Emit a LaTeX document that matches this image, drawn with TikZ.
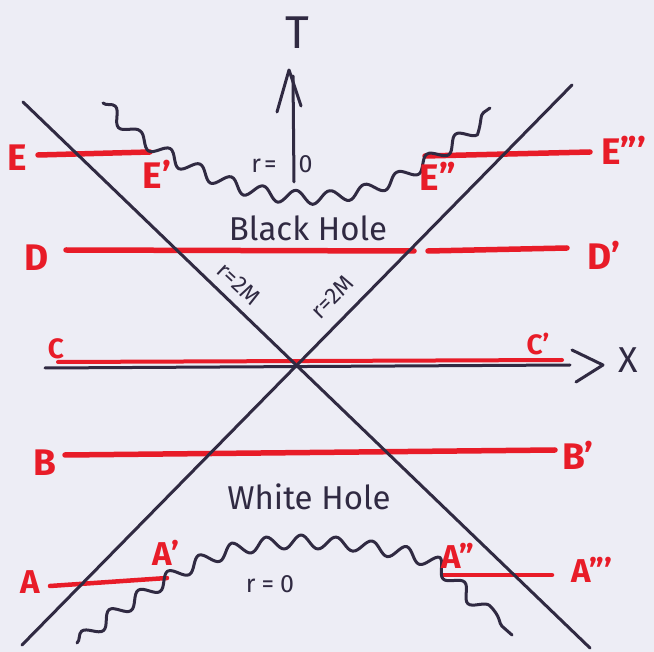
\documentclass[tikz,border=0pt]{standalone}
\usepackage{fontspec}
\setmainfont{Fira Sans}
\usetikzlibrary{decorations.pathmorphing}
\definecolor{paper}{RGB}{237,237,245}
\definecolor{ink}{RGB}{48,42,66}
\definecolor{mark}{RGB}{232,28,40}
\begin{document}
\begin{tikzpicture}[x=1pt,y=-1pt,
  blk/.style={draw=ink,line width=3pt,line cap=round,line join=round},
  redl/.style={draw=mark,line width=5.5pt,line cap=round},
  wave/.style={draw=ink,line width=3pt,line cap=round,line join=round,decorate,decoration={snake,amplitude=6.5pt,segment length=35pt}},
  rlab/.style={text=mark,font=\fontsize{37}{37}\selectfont\bfseries,inner sep=0pt},
  blab/.style={text=ink,font=\fontsize{33}{33}\selectfont,inner sep=0pt},
  slab/.style={text=ink,font=\fontsize{23}{23}\selectfont,inner sep=0pt}]
\fill[paper] (0,0) rectangle (654,652);
\useasboundingbox (0,0) rectangle (654,652);

% coordinates
\coordinate (d1a) at (23,102); \coordinate (d1b) at (590,648);
\coordinate (d2a) at (22,645); \coordinate (d2b) at (572,85);
\coordinate (xa) at (45,368); \coordinate (xb) at (570,365);
\coordinate (xh1) at (572,350); \coordinate (xt) at (603,365); \coordinate (xh2) at (576,382);
\coordinate (ta) at (294,182); \coordinate (tb) at (293,76);
\coordinate (th1) at (277,112); \coordinate (tt) at (289,70); \coordinate (th2) at (301,106);

% red slices
\coordinate (e0) at (38,155); \coordinate (e1) at (150,152);
\coordinate (e2) at (425,156); \coordinate (e3) at (590,152);
\coordinate (dd0) at (66,250); \coordinate (dd1) at (414,251);
\coordinate (dd2) at (428,251); \coordinate (dd3) at (567,248);
\coordinate (c0) at (58,362); \coordinate (c1) at (562,360);
\coordinate (b0) at (65,455); \coordinate (b1) at (555,450);
\coordinate (a0) at (50,586); \coordinate (a1) at (167,578);
\coordinate (a2) at (443,575); \coordinate (a3) at (552,575);

\draw[blk] (xa) -- (xb);
\draw[redl] (e0) -- (e1);
\draw[redl] (e2) -- (e3);
\draw[redl] (dd0) -- (dd1);
\draw[redl] (dd2) -- (dd3);
\draw[redl,line width=4pt] (c0) -- (c1);
\draw[redl] (b0) -- (b1);
\draw[redl,line width=4.5pt] (a0) -- (a1);
\draw[redl,line width=4.5pt] (a2) -- (a3);

\draw[blk] (d1a) -- (d1b);
\draw[blk] (d2a) -- (d2b);
\draw[blk] (xh1) -- (xt) -- (xh2);
\draw[blk] (ta) -- (tb);
\draw[blk] (th1) -- (tt) -- (th2);

% singularities
\draw[wave] (103,103) -- (133,133) -- (167,153) -- (200,168) -- (233,180) -- (267,187) -- (300,189) -- (330,188) -- (363,182) -- (400,168) -- (430,150) -- (463,127) -- (490,108);
\draw[wave] (77,643) -- (100,625) -- (133,603) -- (167,581) -- (200,564) -- (233,552) -- (267,546) -- (300,544) -- (350,547) -- (400,555) -- (440,568) -- (470,598) -- (512,635);

% labels
\node[rlab] (le) at (17,158) {E};
\node[rlab] (le1) at (157,174) {E'};
\node[rlab] (le2) at (438,176) {E''};
\node[rlab] (le3) at (624,150) {E'''};
\node[rlab] (ld) at (37,258) {D};
\node[rlab] (ld1) at (604,255) {D'};
\node[rlab,font=\fontsize{28}{28}\selectfont\bfseries] (lc) at (56,349) {C};
\node[rlab,font=\fontsize{28}{28}\selectfont\bfseries] (lc1) at (538,344) {C'};
\node[rlab] (lb) at (45,463) {B};
\node[rlab] (lb1) at (578,455) {B'};
\node[rlab,font=\fontsize{33}{33}\selectfont\bfseries] (la) at (30,582) {A};
\node[rlab,font=\fontsize{33}{33}\selectfont\bfseries] (la1) at (166,553) {A'};
\node[rlab,font=\fontsize{33}{33}\selectfont\bfseries] (la2) at (458,556) {A''};
\node[rlab,font=\fontsize{33}{33}\selectfont\bfseries] (la3) at (592,570) {A'''};

\node[blab,font=\fontsize{46}{46}\selectfont] (lt) at (297,33) {T};
\node[blab,font=\fontsize{36}{36}\selectfont] (lx) at (628,360) {X};
\node[blab] (bh) at (308,228) {Black Hole};
\node[blab] (wh) at (309,497) {White Hole};
\node[slab,font=\fontsize{25}{25}\selectfont] (r0t) at (282,164) {r\hspace{3pt}=\hspace{22pt}0};
\node[slab,font=\fontsize{25}{25}\selectfont] (r0b) at (270,584) {r\hspace{6pt}=\hspace{6pt}0};
\node[slab,rotate=-43] (r2l) at (239,284) {r=2M};
\node[slab,rotate=45] (r2r) at (332,297) {r=2M};
\end{tikzpicture}
\end{document}
